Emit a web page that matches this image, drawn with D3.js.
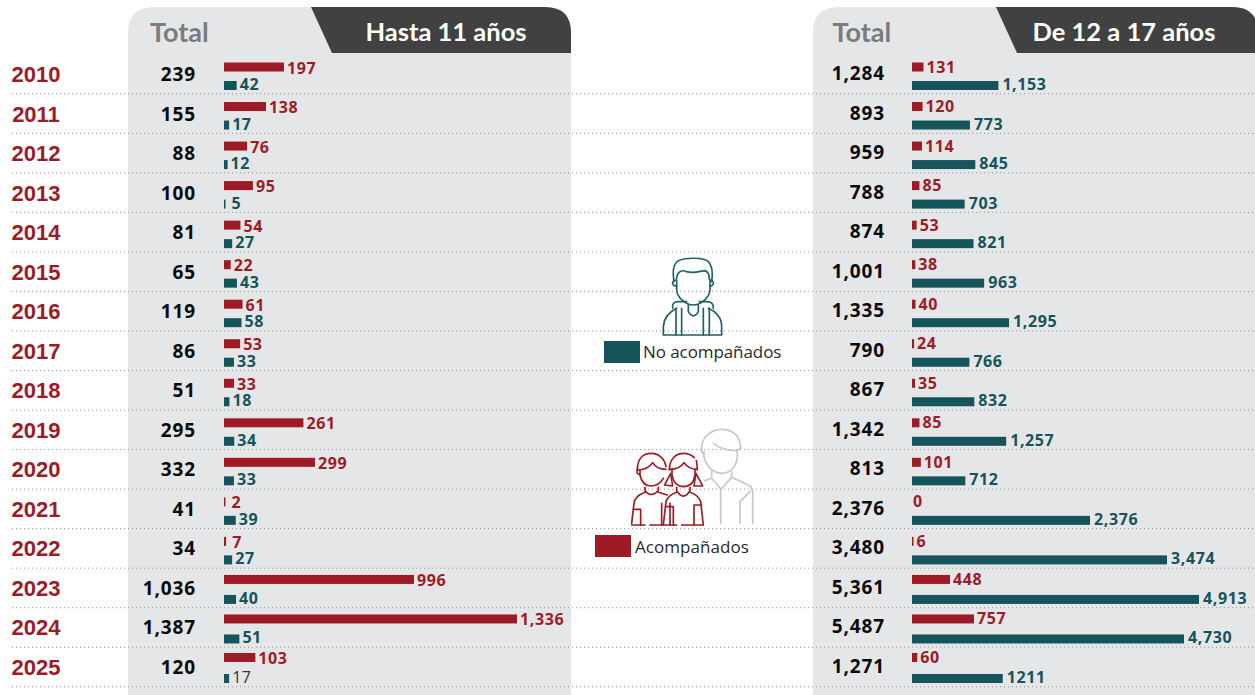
<!DOCTYPE html>
<html><head><meta charset="utf-8">
<script src="https://cdnjs.cloudflare.com/ajax/libs/d3/7.8.5/d3.min.js"></script>
<style>html,body{margin:0;padding:0;background:#fff;overflow:hidden}svg{display:block}</style>
</head><body><svg id="c" width="1255" height="695"></svg>
<script>
const years=[2010,2011,2012,2013,2014,2015,2016,2017,2018,2019,2020,2021,2022,2023,2024,2025];
const totalChild=[239,155,88,100,81,65,119,86,51,295,332,41,34,1036,1387,120];
const accChild=[197,138,76,95,54,22,61,53,33,261,299,2,7,996,1336,103];
const unaccChild=[42,17,12,5,27,43,58,33,18,34,33,39,27,40,51,17];
const totalTeen=[1284,893,959,788,874,1001,1335,790,867,1342,813,2376,3480,5361,5487,1271];
const accTeen=[131,120,114,85,53,38,40,24,35,85,101,0,6,448,757,60];
const unaccTeen=[1153,773,845,703,821,963,1295,766,832,1257,712,2376,3474,4913,4730,1211];

const RED="#9e1b25",TEAL="#14545a",DARK="#414141",PANEL="#e5e6e8",NUM="'Open Sans',sans-serif";
const svg=d3.select("#c");
const rowY=d3.scalePoint().domain(years).range([74,667]);
// the source bars are not drawn to one constant scale, so each scale is piecewise
const xChildRed=d3.scaleLinear().domain([0,299,996,1336]).range([0,91,190,293]);
const xChildTeal=d3.scaleLinear().domain([0,58]).range([0,17.5]);
const xTeenRed=d3.scaleLinear().domain([0,131,448,757]).range([0,11.5,38,62]);
const xTeenTeal=d3.scaleLinear().domain([0,2376,3474,4730,4913]).range([0,178,255,272,287]);
const fmt=d3.format(",");

function panel(x0,x1,hx,title,titleX,totalX){
  const r=26,t=7;
  svg.append("path").attr("fill",PANEL)
    .attr("d",`M${x0},695V${t+r}Q${x0},${t} ${x0+r},${t}H${x1-r}Q${x1},${t} ${x1},${t+r}V695Z`);
  svg.append("path").attr("fill",DARK)
    .attr("d",`M${hx},${t}H${x1-r}Q${x1},${t} ${x1},${t+r}V53H${hx+21}Z`);
  svg.append("text").attr("x",titleX).attr("y",41).attr("text-anchor","middle")
    .attr("fill","#fff").attr("font-family","Lato,sans-serif").attr("font-weight",700)
    .attr("font-size",25.5).text(title);
  svg.append("text").attr("x",totalX).attr("y",42).attr("fill","#7b7c7e")
    .attr("font-family","Lato,sans-serif").attr("font-weight",700).attr("font-size",27).text("Total");
}
panel(128,571,311,"Hasta 11 años",446,150);
panel(813,1258,996,"De 12 a 17 años",1124,832.5);

// dotted row separators
const step=rowY.step();
svg.append("g").selectAll("line").data(years).join("line")
  .attr("x1",12).attr("x2",1255)
  .attr("y1",d=>rowY(d)+step/2).attr("y2",d=>rowY(d)+step/2)
  .attr("stroke","#8f9092").attr("stroke-width",1).attr("stroke-dasharray","1 3");

// year labels
svg.append("g").selectAll("text").data(years).join("text")
  .attr("x",36).attr("y",d=>rowY(d)+8).attr("text-anchor","middle")
  .attr("fill",RED).attr("font-family","'Liberation Sans',sans-serif")
  .attr("font-weight",700).attr("font-size",22).text(d=>d);

function series(x0,totals,red,teal,sRed,sTeal,totalRight,isTeen){
  svg.append("g").selectAll("text").data(totals).join("text")
    .attr("x",totalRight+1).attr("y",(d,i)=>rowY(years[i])+(isTeen?6:7))
    .attr("text-anchor","end").attr("fill","#0a0a0a")
    .attr("font-family",NUM).attr("font-weight",700).attr("font-size",19).attr("letter-spacing",0.9)
    .text(d=>fmt(d));
  const draw=(vals,sc,col,dy,isTealSeries)=>{
    const g=svg.append("g");
    // the last three rows sit a little higher in the source for the upper bar
    const lift=i=>(!isTealSeries&&i>=13)?(i===15?-2.5:-1.5):0;
    const w=d=>d===0?0:Math.max(sc(d),1.5);
    const gap=d=>d===0?1:(!isTeen&&d<10?6:3);
    g.selectAll("rect").data(vals).join("rect")
      .attr("x",x0).attr("y",(d,i)=>rowY(years[i])+dy-4.5+lift(i))
      .attr("width",w).attr("height",9).attr("fill",col);
    g.selectAll("text").data(vals).join("text")
      .attr("x",d=>x0+w(d)+gap(d)+(isTealSeries&&isTeen?1:0))
      .attr("y",(d,i)=>rowY(years[i])+dy+lift(i)+(isTealSeries?4.5:(isTeen?5.5:6.5)))
      .attr("font-family",NUM).attr("font-size",16).attr("letter-spacing",0.6)
      .attr("fill",(d,i)=>(isTealSeries&&!isTeen&&i===15)?"#333":col)
      .attr("font-weight",(d,i)=>(isTealSeries&&!isTeen&&i===15)?400:700)
      .text((d,i)=>(isTealSeries&&isTeen&&i===15)?String(d):fmt(d));
  };
  draw(red,sRed,RED,-7,false);
  draw(teal,sTeal,TEAL,11.5,true);
}
series(224,totalChild,accChild,unaccChild,xChildRed,xChildTeal,195,false);
series(912,totalTeen,accTeen,unaccTeen,xTeenRed,xTeenTeal,884,true);

// legend
svg.append("rect").attr("x",604).attr("y",341).attr("width",36).attr("height",22).attr("fill",TEAL);
svg.append("text").attr("x",643).attr("y",358).attr("font-family","'Open Sans',sans-serif")
  .attr("font-size",17).attr("letter-spacing",-0.08).attr("fill","#2a2a2a").text("No acompañados");
svg.append("rect").attr("x",595).attr("y",535).attr("width",36).attr("height",22).attr("fill",RED);
svg.append("text").attr("x",635).attr("y",553).attr("font-family","'Open Sans',sans-serif")
  .attr("font-size",17).attr("letter-spacing",0.05).attr("fill","#2a2a2a").text("Acompañados");

// icons
const icon=svg.append("g").attr("transform","translate(580,240) scale(0.3333)")
  .attr("fill","none").attr("stroke-width",5).attr("stroke-linecap","round").attr("stroke-linejoin","round");
const boyIcon=["M282,125C278,95 278,75 295,62C320,52 370,52 385,65C400,80 398,105 395,125",
"M290,115C292,95 305,88 320,95C345,102 362,92 375,92C385,95 388,105 388,118",
"M290,120V150C292,175 320,195 340,195C360,195 388,175 390,150V120",
"M288,120Q276,122 278,132Q282,140 290,138","M390,120Q402,122 400,132Q396,140 390,138",
"M250,285V260C252,228 272,214 290,205M425,285V260C425,228 405,214 385,205M250,285H425",
"M288,205V285M305,205V285M370,205V285M388,205V285",
"M325,195V215Q340,240 355,215V195",
"M278,205Q275,185 295,185H320M400,205Q402,185 380,185H358"];
icon.append("g").attr("stroke","#1f6166").selectAll("path").data(boyIcon).join("path").attr("d",d=>d);
const adultIcon=["M365,630C362,595 390,568 425,568C460,568 482,590 482,625L470,632C440,632 415,622 400,610",
"M372,635V650C378,680 400,700 425,700C450,700 470,680 472,650V630","M365,630Q365,640 372,642",
"M395,695V715L423,748L455,712V695","M375,722L395,715M455,712L510,738Q518,745 518,760V850",
"M422,748V850M480,850V785L510,755"];
icon.append("g").attr("stroke","#c5c7ca").selectAll("path").data(adultIcon).join("path").attr("d",d=>d);
const kidsIcon=["M172,690C172,655 190,640 213,640C240,640 255,660 258,680","M172,690C195,690 210,680 218,668C225,680 240,688 258,688",
"M180,690V705C185,730 200,738 213,738C225,738 240,732 250,715","M172,690Q168,702 180,704",
"M195,742V752Q213,775 235,752V742","M155,850L162,790Q165,768 195,757M235,757L262,765",
"M155,855H195M210,855H290M305,855H370","M160,808H182V855M245,790V855",
"M268,690C268,655 290,640 310,640C322,640 335,645 343,653M349,662Q352,675 352,690","M268,688C290,688 305,680 312,668C320,680 335,688 352,688",
"M276,688V705C280,730 295,740 310,740C330,740 342,728 345,705V688",
"M272,700L254,735L278,738ZM348,700L368,738L342,738Z",
"M290,742V752Q310,785 330,752V742","M250,855L258,785Q265,765 290,757M330,757Q355,765 362,785L370,855",
"M258,800H280V855M342,855V795H365","M270,790V855"];
icon.append("g").attr("stroke",RED).selectAll("path").data(kidsIcon).join("path").attr("d",d=>d);
</script></body></html>
